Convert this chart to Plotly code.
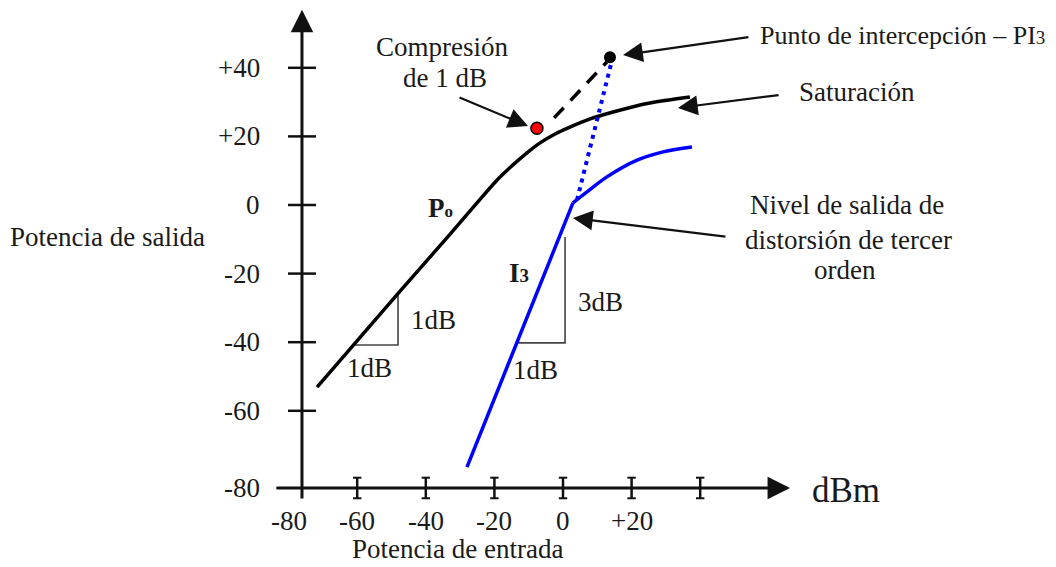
import plotly.graph_objects as go

# ---------------- data (dBm) ----------------
# fundamental output power Po vs input power
p0_in = [-71.7, -47.5, -32.9, -19.2, -14.9, -10.5, -6.7, -2.3, 2.0, 7.9, 14.6, 24.5, 37.0]
p0_out = [-53.1, -25.1, -8.5, 7.3, 11.4, 15.2, 18.1, 20.7, 22.7, 25.1, 27.1, 29.6, 31.5]

# third-order distortion I3: linear part and saturating part
i3_lin_in = [-28.0, 2.9]
i3_lin_out = [-76.4, 0.6]
i3_sat_in = [2.9, 7.0, 12.8, 21.6, 29.2, 37.6]
i3_sat_out = [0.6, 3.8, 8.2, 13.1, 15.5, 16.9]

# extrapolations to the intercept point
po_extrap_in = [-2.6, 12.8]
po_extrap_out = [25.4, 41.7]
i3_extrap_in = [4.1, 14.3]
i3_extrap_out = [1.5, 42.3]

# special points
compression_pt = (-7.6, 22.4)
intercept_pt = (13.7, 43.1)

# slope triangles
tri1_x = [-61.2, -48.1, -48.1]
tri1_y = [-40.8, -40.8, -25.7]
tri2_x = [-13.1, 0.6, 0.6]
tri2_y = [-40.2, -40.2, -9.3]

# axes
x_tick_vals = [-80, -60, -40, -20, 0, 20]
x_tick_text = ["-80", "-60", "-40", "-20", "0", "+20"]
x_marks = [-60, -40, -20, 0, 20, 40]
y_tick_vals = [40, 20, 0, -20, -40, -60]
y_tick_text = ["+40", "+20", "0", "-20", "-40", "-60"]
y_axis_x = -76.1
x_axis_y = -82.5
x_axis_span = (-84.0, 66.2)
y_axis_span = (-86.0, 56.9)

FONT = "Liberation Serif"
TXT = "#1a1a1a"
BLUE = "#0000ff"

fig = go.Figure()

annotations = []
# axes lines with arrows
for (tx, ty), (sx, sy) in (((x_axis_span[1], x_axis_y), (x_axis_span[0], x_axis_y)),
                           ((y_axis_x, y_axis_span[1]), (y_axis_x, y_axis_span[0]))):
    annotations.append(dict(x=tx, y=ty, ax=sx, ay=sy, xref="x", yref="y", axref="x", ayref="y",
                            text="", showarrow=True, arrowhead=2, arrowsize=1.5, arrowwidth=3,
                            arrowcolor="#111111"))

# y-axis tick marks (plotly line symbols are drawn 1.4x the marker size)
fig.add_trace(go.Scatter(x=[y_axis_x] * len(y_tick_vals), y=y_tick_vals, mode="markers",
                         marker=dict(symbol="line-ew", size=20, line=dict(width=2.5, color="#111111")),
                         hoverinfo="skip", showlegend=False))
# x-axis "I" tick marks
fig.add_trace(go.Scatter(x=x_marks, y=[x_axis_y] * len(x_marks), mode="markers",
                         marker=dict(symbol="line-ns", size=15, line=dict(width=2.5, color="#111111")),
                         hoverinfo="skip", showlegend=False))
for off_y in (3.0, -3.0):
    fig.add_trace(go.Scatter(x=x_marks, y=[x_axis_y + off_y] * len(x_marks), mode="markers",
                             marker=dict(symbol="line-ew", size=6, line=dict(width=2, color="#111111")),
                             hoverinfo="skip", showlegend=False))

# slope triangles
for tx, ty in ((tri1_x, tri1_y), (tri2_x, tri2_y)):
    fig.add_trace(go.Scatter(x=tx, y=ty, mode="lines", line=dict(color="#444444", width=1.6),
                             hoverinfo="skip", showlegend=False))

# curves
fig.add_trace(go.Scatter(x=p0_in, y=p0_out, mode="lines",
                         line=dict(color="#000000", width=3.5, shape="spline", smoothing=0.8),
                         showlegend=False))
fig.add_trace(go.Scatter(x=i3_lin_in, y=i3_lin_out, mode="lines", line=dict(color=BLUE, width=3.5),
                         showlegend=False))
fig.add_trace(go.Scatter(x=i3_sat_in, y=i3_sat_out, mode="lines", line=dict(color=BLUE, width=3.5, shape="spline"),
                         showlegend=False))
fig.add_trace(go.Scatter(x=po_extrap_in, y=po_extrap_out, mode="lines",
                         line=dict(color="#000000", width=3.5, dash="14px,10px"), showlegend=False))
fig.add_trace(go.Scatter(x=i3_extrap_in, y=i3_extrap_out, mode="lines",
                         line=dict(color=BLUE, width=4, dash="4px,5px"), showlegend=False))

# points
fig.add_trace(go.Scatter(x=[compression_pt[0]], y=[compression_pt[1]], mode="markers",
                         marker=dict(size=12, color="#ff0000", line=dict(color="#000000", width=1.5)),
                         showlegend=False))
fig.add_trace(go.Scatter(x=[intercept_pt[0]], y=[intercept_pt[1]], mode="markers",
                         marker=dict(size=12, color="#000000"), showlegend=False))

# pointer arrows
pointers = [
    ((-10.2, 23.0), (-30.6, 31.5)),   # compresion
    ((17.5, 43.7), (54.5, 49.0)),     # punto de intercepcion
    ((33.5, 28.3), (63.3, 32.1)),     # saturacion
    ((2.9, -3.8), (47.8, -9.3)),      # nivel de salida
]
for (tx, ty), (sx, sy) in pointers:
    annotations.append(dict(x=tx, y=ty, ax=sx, ay=sy, xref="x", yref="y", axref="x", ayref="y",
                            text="", showarrow=True, arrowhead=2, arrowsize=1.8, arrowwidth=2.2,
                            arrowcolor="#111111"))


def label(x, y, text, size=27, xanchor="center"):
    annotations.append(dict(x=x, y=y, xref="x", yref="y", text=text, showarrow=False,
                            xanchor=xanchor, yanchor="middle",
                            font=dict(family=FONT, size=size, color=TXT)))


# tick labels
for v, t in zip(y_tick_vals, y_tick_text):
    label(-87.8, v, t, xanchor="right")
label(-87.8, x_axis_y, "-80", xanchor="right")
for v, t in zip(x_tick_vals, x_tick_text):
    label(v, -92.1, t)

# titles and notes
label(-132.7, -9.3, "Potencia de salida")
label(-30.9, -100.3, "Potencia de entrada")
label(82.5, -83.1, "dBm", size=35)
label(-35.3, 46.1, "Compresión")
label(-34.4, 37.0, "de 1 dB")
label(141.0, 49.3, "Punto de intercepción – PI<span style='font-size:19px'>3</span>", size=26, xanchor="right")
label(85.7, 32.9, "Saturación")
label(82.8, 0.0, "Nivel de salida de")
label(83.1, -10.2, "distorsión de tercer")
label(82.2, -19.0, "orden")
label(-35.6, -0.9, "<b>P<span style='font-size:17px'>o</span></b>")
label(-12.8, -19.8, "<b>I<span style='font-size:19px'>3</span></b>")
label(-37.9, -33.5, "1dB")
label(-56.3, -47.5, "1dB")
label(10.8, -28.3, "3dB")
label(-7.9, -48.1, "1dB")

# page pixel mapping: x = (px - 563)/k, y = (205 - py)/k ; figure sits at page offset 8px
k = 3.43
off = 8
W, H = 1056 - off, 567 - off
fig.update_layout(
    width=W, height=H, autosize=False,
    margin=dict(l=0, r=0, t=0, b=0),
    paper_bgcolor="white", plot_bgcolor="white",
    xaxis=dict(visible=False, range=[(off - 563) / k, (off + W - 563) / k], fixedrange=True),
    yaxis=dict(visible=False, range=[(205 - off - H) / k, (205 - off) / k], fixedrange=True),
    annotations=annotations,
    showlegend=False,
)

fig.write_html("out.html")
